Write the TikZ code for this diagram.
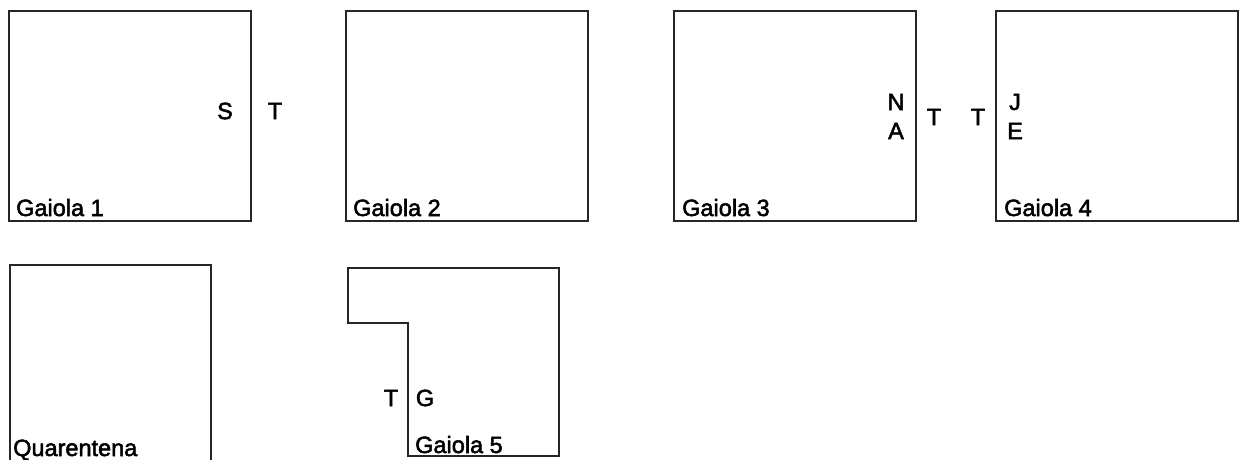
\documentclass[tikz,border=0pt]{standalone}
\usepackage{fontspec}
\setmainfont{Liberation Sans}
\newfontfamily\cagefont[UprightFeatures={FakeBold=2.2}]{Liberation Sans}
\begin{document}
\begin{tikzpicture}[x=1pt,y=-1pt,
  wall/.style={draw=black!85,line width=1.3pt,line join=miter},
  lbl/.style={inner sep=0pt,font=\cagefont\fontsize{23.5}{28}\selectfont},
  cagename/.style={lbl,anchor=base west},
  letter/.style={lbl,anchor=center}]
\useasboundingbox (0,0) rectangle (1239,459);
% cages
\draw[wall] (9,11) rectangle (251,221);
\draw[wall] (346,11) rectangle (588,221);
\draw[wall] (674,11) rectangle (916,221);
\draw[wall] (996,11) rectangle (1238,221);
\draw[wall] (10,462) -- (10,265) -- (211,265) -- (211,462);
\draw[wall] (348,268) -- (559,268) -- (559,456) -- (408,456) -- (408,323) -- (348,323) -- cycle;
% cage names
\node[cagename] (g1) at (16,216) {Gaiola 1};
\node[cagename] (g2) at (353,216) {Gaiola 2};
\node[cagename] (g3) at (682,216) {Gaiola 3};
\node[cagename] (g4) at (1004,216) {Gaiola 4};
\node[cagename] (q) at (13,456) {Quarentena};
\node[cagename] (g5) at (415,453) {Gaiola 5};
% letters
\node[letter] (s1) at (225,111) {S};
\node[letter] (t1) at (275,111) {T};
\node[letter] (n3) at (896,102) {N};
\node[letter] (a3) at (896,131) {A};
\node[letter] (t3) at (934,117) {T};
\node[letter] (t4) at (978,117) {T};
\node[letter] (j4) at (1015,102) {J};
\node[letter] (e4) at (1015,131) {E};
\node[letter] (t5) at (391,398) {T};
\node[letter] (g5l) at (425,398) {G};
\end{tikzpicture}
\end{document}
